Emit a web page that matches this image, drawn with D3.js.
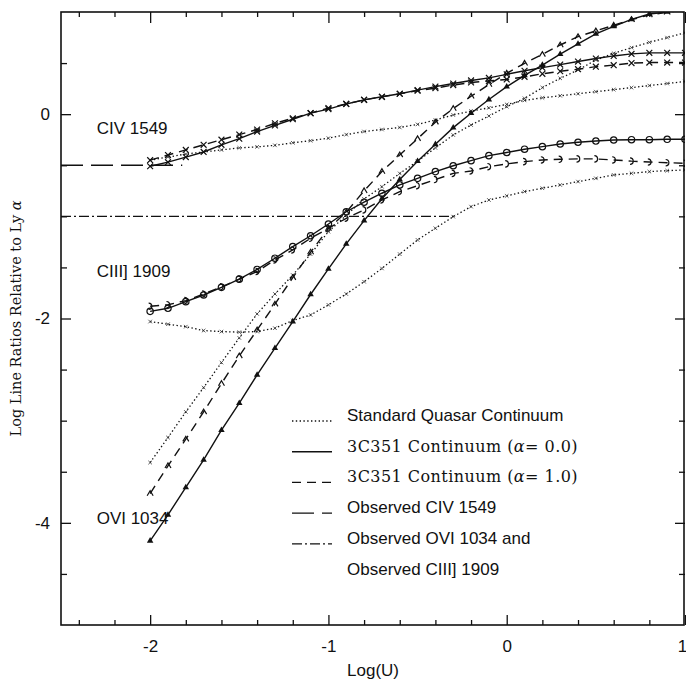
<!DOCTYPE html>
<html>
<head>
<meta charset="utf-8">
<script src="https://cdn.jsdelivr.net/npm/d3@7"></script>
<style>
  body { margin: 0; background: #fff; }
  svg { display: block; }
</style>
</head>
<body>
<div class="canvas"></div>
<script>
// DATA

// ionization parameter grid
const logU = [-2.0, -1.9, -1.8, -1.7, -1.6, -1.5, -1.4, -1.3, -1.2, -1.1, -1.0,
              -0.9, -0.8, -0.7, -0.6, -0.5, -0.4, -0.3, -0.2, -0.1, 0.0,
              0.1, 0.2, 0.3, 0.4, 0.5, 0.6, 0.7, 0.8, 0.9, 1.0];

// CIV 1549 / Ly alpha
const civStd = [-0.45, -0.42, -0.39, -0.37, -0.35, -0.33, -0.32, -0.305, -0.28, -0.26, -0.235,
                -0.20, -0.17, -0.15, -0.13, -0.10, -0.057, -0.008, 0.03, 0.062, 0.095,
                0.135, 0.16, 0.18, 0.20, 0.22, 0.24, 0.26, 0.28, 0.30, 0.32];
const civA0 = [-0.51, -0.47, -0.42, -0.37, -0.30, -0.24, -0.17, -0.11, -0.05, 0.01, 0.05,
               0.10, 0.14, 0.17, 0.20, 0.235, 0.27, 0.30, 0.33, 0.355, 0.39,
               0.425, 0.455, 0.485, 0.515, 0.545, 0.57, 0.59, 0.60, 0.60, 0.60];
const civA1 = [-0.45, -0.40, -0.35, -0.30, -0.25, -0.20, -0.15, -0.09, -0.04, 0.01, 0.06,
               0.10, 0.14, 0.17, 0.20, 0.23, 0.255, 0.285, 0.31, 0.325, 0.34,
               0.365, 0.395, 0.42, 0.44, 0.465, 0.48, 0.50, 0.505, 0.505, 0.505];

// CIII] 1909 / Ly alpha
const ciiiStd = [-2.03, -2.056, -2.08, -2.118, -2.128, -2.134, -2.128, -2.095, -2.02, -1.965, -1.867,
                 -1.76, -1.64, -1.51, -1.37, -1.231, -1.117, -1.003, -0.905, -0.84, -0.80,
                 -0.758, -0.725, -0.693, -0.66, -0.628, -0.595, -0.579, -0.562, -0.553, -0.546];
const ciiiA0 = [-1.93, -1.90, -1.835, -1.77, -1.695, -1.615, -1.52, -1.41, -1.296, -1.19, -1.075,
                -0.955, -0.862, -0.774, -0.693, -0.628, -0.562, -0.505, -0.455, -0.406, -0.375,
                -0.343, -0.318, -0.292, -0.275, -0.263, -0.253, -0.25, -0.25, -0.246, -0.246];
const ciiiA1 = [-1.88, -1.865, -1.825, -1.76, -1.69, -1.615, -1.54, -1.427, -1.329, -1.215, -1.117,
                -1.019, -0.937, -0.840, -0.758, -0.700, -0.640, -0.580, -0.556, -0.514, -0.487,
                -0.465, -0.448, -0.442, -0.438, -0.438, -0.448, -0.46, -0.468, -0.475, -0.481];

// OVI 1034 / Ly alpha
const oviStd = [-3.41, -3.165, -2.914, -2.676, -2.431, -2.19, -1.955, -1.76, -1.575, -1.37, -1.15,
                -0.99, -0.83, -0.71, -0.58, -0.46, -0.33, -0.204, -0.106, -0.018, 0.073,
                0.155, 0.26, 0.351, 0.432, 0.53, 0.596, 0.651, 0.703, 0.749, 0.798];
const oviA0 = [-4.176, -3.922, -3.654, -3.384, -3.093, -2.829, -2.552, -2.291, -2.030, -1.765, -1.515,
               -1.27, -1.042, -0.828, -0.64, -0.46, -0.295, -0.132, 0.009, 0.143, 0.269,
               0.38, 0.481, 0.587, 0.688, 0.785, 0.86, 0.928, 0.98, 1.0, 1.03];
const oviA1 = [-3.713, -3.442, -3.181, -2.914, -2.637, -2.366, -2.112, -1.86, -1.60, -1.35, -1.12,
               -0.96, -0.75, -0.562, -0.399, -0.24, -0.078, 0.055, 0.175, 0.29, 0.40,
               0.498, 0.585, 0.677, 0.759, 0.815, 0.87, 0.925, 0.971, 0.997, 1.02];

// observed ratios (value, logU extent)
const obsCIV = [[-2.5, -0.5], [-1.82, -0.5]];
const obsOVICIII = [[-2.5, -1.0], [-0.28, -1.0]];

// axis ticks
const xMajorTicks = [-2, -1, 0, 1];
const xMinorTicks = [-2.4, -2.2, -1.8, -1.6, -1.4, -1.2, -0.8, -0.6, -0.4, -0.2, 0.2, 0.4, 0.6, 0.8];
const yMajorTicks = [-4, -2, 0];
const yMinorTicks = [-4.5, -3.5, -3, -2.5, -1.5, -1, -0.5, 0.5];

// line annotations
const lineLabels = ['CIV 1549', 'CIII] 1909', 'OVI 1034'];
const lineLabelY = [-0.19, -1.59, -4.01];

const legendLabels = ['Standard Quasar Continuum', '3C351 Continuum (α= 0.0)', '3C351 Continuum (α= 1.0)',
                      'Observed CIV 1549', 'Observed OVI 1034 and', 'Observed CIII] 1909'];


// PLOTTING

const W = 686, H = 682;
const sans = '"Liberation Sans", Arial, Helvetica, sans-serif';
const serif = '"DejaVu Serif", serif';

const svg = d3.select('.canvas').append('svg')
    .attr('width', W)
    .attr('height', H);

const x = d3.scaleLinear().domain([-2.5, 1]).range([61, 685]);
const y = d3.scaleLinear().domain([-5, 1]).range([625, 12]);

// line styles
const styles = {
    dotted:   { dash: '1.4,2.4', width: 1.3 },
    solid:    { dash: null, width: 1.4 },
    dashed:   { dash: '9,6', width: 1.4 },
    longdash: { dash: '22,8', width: 1.4 },
    dashdot:  { dash: '10,3,2,3', width: 1.3 }
};

// marker drawers
const markers = {
    times: (g) => g.append('path').attr('d', d3.symbol(d3.symbolTimes, 24)())
        .attr('fill', 'none').attr('stroke', '#111').attr('stroke-width', 1.2),
    tiny: (g) => g.append('path').attr('d', d3.symbol(d3.symbolTimes, 10)())
        .attr('fill', 'none').attr('stroke', '#333').attr('stroke-width', 0.8),
    circle: (g) => g.append('circle').attr('r', 3.2)
        .attr('fill', 'none').attr('stroke', '#111').attr('stroke-width', 1.2),
    hook: (g) => g.append('path').attr('d', 'M-1.5,-3.2A3.2,3.2 0 0 1 -1.5,3.2')
        .attr('fill', 'none').attr('stroke', '#111').attr('stroke-width', 1.2),
    triangle: (g) => g.append('path').attr('d', d3.symbol(d3.symbolTriangle, 18)())
        .attr('fill', '#111'),
    caret: (g) => g.append('path').attr('d', 'M-3,2.2L0,-2.8L3,2.2')
        .attr('fill', 'none').attr('stroke', '#111').attr('stroke-width', 1.2)
};

const series = [
    { values: civStd,  style: 'dotted', marker: 'tiny' },
    { values: civA1,   style: 'dashed', marker: 'times' },
    { values: civA0,   style: 'solid',  marker: 'times' },
    { values: ciiiStd, style: 'dotted', marker: 'tiny' },
    { values: ciiiA1,  style: 'dashed', marker: 'hook' },
    { values: ciiiA0,  style: 'solid',  marker: 'circle' },
    { values: oviStd,  style: 'dotted', marker: 'tiny' },
    { values: oviA1,   style: 'dashed', marker: 'caret' },
    { values: oviA0,   style: 'solid',  marker: 'triangle' }
];

const xLeft = x.range()[0], xRight = x.range()[1];
const yBottom = y.range()[0], yTop = y.range()[1];

svg.append('clipPath').attr('id', 'plot-clip')
    .append('rect')
    .attr('x', xLeft).attr('y', yTop)
    .attr('width', xRight - xLeft)
    .attr('height', yBottom - yTop);

const plot = svg.append('g').attr('clip-path', 'url(#plot-clip)');

const line = d3.line().x(d => x(d[0])).y(d => y(d[1]));

// observed ratios
[[obsCIV, 'longdash'], [obsOVICIII, 'dashdot']].forEach(([pts, st]) => {
    plot.append('path')
        .attr('d', line(pts))
        .attr('fill', 'none')
        .attr('stroke', '#111')
        .attr('stroke-width', styles[st].width)
        .attr('stroke-dasharray', styles[st].dash);
});

// model curves
series.forEach(s => {
    const pts = logU.map((u, i) => [u, s.values[i]]);
    const st = styles[s.style];

    plot.append('path')
        .attr('d', line(pts))
        .attr('fill', 'none')
        .attr('stroke', '#111')
        .attr('stroke-width', st.width)
        .attr('stroke-dasharray', st.dash);

    pts.forEach(p => {
        const g = plot.append('g')
            .attr('transform', `translate(${x(p[0])},${y(p[1])})`);
        markers[s.marker](g);
    });
});


// AXES
const fmt = d => String(d);

function styleAxis(g) {
    g.select('.domain').remove();
    g.selectAll('line').attr('stroke', '#111').attr('stroke-width', 1.3);
    g.selectAll('text')
        .attr('fill', '#111')
        .style('font-family', sans)
        .style('font-size', '17px');
}

svg.append('g').attr('transform', `translate(0,${yBottom})`)
    .call(d3.axisBottom(x).tickValues(xMinorTicks).tickSize(-5).tickFormat(''))
    .call(styleAxis);
const xAxisMajor = svg.append('g').attr('transform', `translate(0,${yBottom})`)
    .call(d3.axisBottom(x).tickValues(xMajorTicks).tickSize(-10).tickPadding(15).tickFormat(fmt))
    .call(styleAxis);
// last label sits right at the page edge
xAxisMajor.selectAll('text').filter(d => d === 1).attr('dx', -3);

svg.append('g').attr('transform', `translate(0,${yTop})`)
    .call(d3.axisTop(x).tickValues(xMinorTicks).tickSize(-5).tickFormat(''))
    .call(styleAxis);
svg.append('g').attr('transform', `translate(0,${yTop})`)
    .call(d3.axisTop(x).tickValues(xMajorTicks).tickSize(-11).tickFormat(''))
    .call(styleAxis);

svg.append('g').attr('transform', `translate(${xLeft},0)`)
    .call(d3.axisLeft(y).tickValues(yMinorTicks).tickSize(-6).tickFormat(''))
    .call(styleAxis);
svg.append('g').attr('transform', `translate(${xLeft},0)`)
    .call(d3.axisLeft(y).tickValues(yMajorTicks).tickSize(-10).tickPadding(11).tickFormat(fmt))
    .call(styleAxis);

svg.append('g').attr('transform', `translate(${xRight},0)`)
    .call(d3.axisRight(y).tickValues(yMinorTicks).tickSize(-6).tickFormat(''))
    .call(styleAxis);
svg.append('g').attr('transform', `translate(${xRight},0)`)
    .call(d3.axisRight(y).tickValues(yMajorTicks).tickSize(-10).tickFormat(''))
    .call(styleAxis);

// frame
svg.append('rect')
    .attr('x', xLeft).attr('y', yTop)
    .attr('width', xRight - xLeft - 1).attr('height', yBottom - yTop)
    .attr('fill', 'none')
    .attr('stroke', '#111')
    .attr('stroke-width', 1.6);

// axis titles
svg.append('text')
    .attr('x', (xLeft + xRight) / 2)
    .attr('y', 676)
    .attr('text-anchor', 'middle')
    .attr('fill', '#111')
    .style('font-family', sans)
    .style('font-size', '17px')
    .text('Log(U)');

const yTitle = svg.append('text')
    .attr('transform', `translate(21,${(yTop + yBottom) / 2}) rotate(-90)`)
    .attr('text-anchor', 'middle')
    .attr('fill', '#111')
    .style('font-family', serif)
    .style('font-size', '14.5px');
yTitle.append('tspan').text('Log Line Ratios Relative to Ly ');
yTitle.append('tspan').style('font-style', 'italic').text('α');

// line annotations
lineLabels.forEach((t, i) => {
    svg.append('text')
        .attr('x', x(-2.3))
        .attr('y', y(lineLabelY[i]))
        .attr('fill', '#111')
        .style('font-family', sans)
        .style('font-size', '17px')
        .text(t);
});

// LEGEND
const legendStyles = ['dotted', 'solid', 'dashed', 'longdash', 'dashdot', null];
const legendFonts = [sans, serif, serif, sans, sans, sans];
const legend = svg.append('g').attr('transform', 'translate(292,421)');

legendLabels.forEach((t, i) => {
    const row = legend.append('g').attr('transform', `translate(0,${i * 30.7})`);
    const st = styles[legendStyles[i]];
    if (st) {
        row.append('line')
            .attr('x1', 0).attr('x2', 40)
            .attr('y1', 0).attr('y2', 0)
            .attr('stroke', '#111')
            .attr('stroke-width', st.width)
            .attr('stroke-dasharray', st.dash);
    }
    const isSerif = legendFonts[i] === serif;
    const txt = row.append('text')
        .attr('x', 55)
        .attr('y', 0)
        .attr('fill', '#111')
        .style('font-family', legendFonts[i])
        .style('font-size', isSerif ? '16px' : '17px')
        .style('letter-spacing', isSerif ? '0.45px' : null);
    if (t.includes('α')) {
        const parts = t.split('α');
        txt.append('tspan').text(parts[0]);
        txt.append('tspan').style('font-style', 'italic').text('α');
        txt.append('tspan').text(parts[1]);
    } else {
        txt.text(t);
    }
});
</script>
</body>
</html>
